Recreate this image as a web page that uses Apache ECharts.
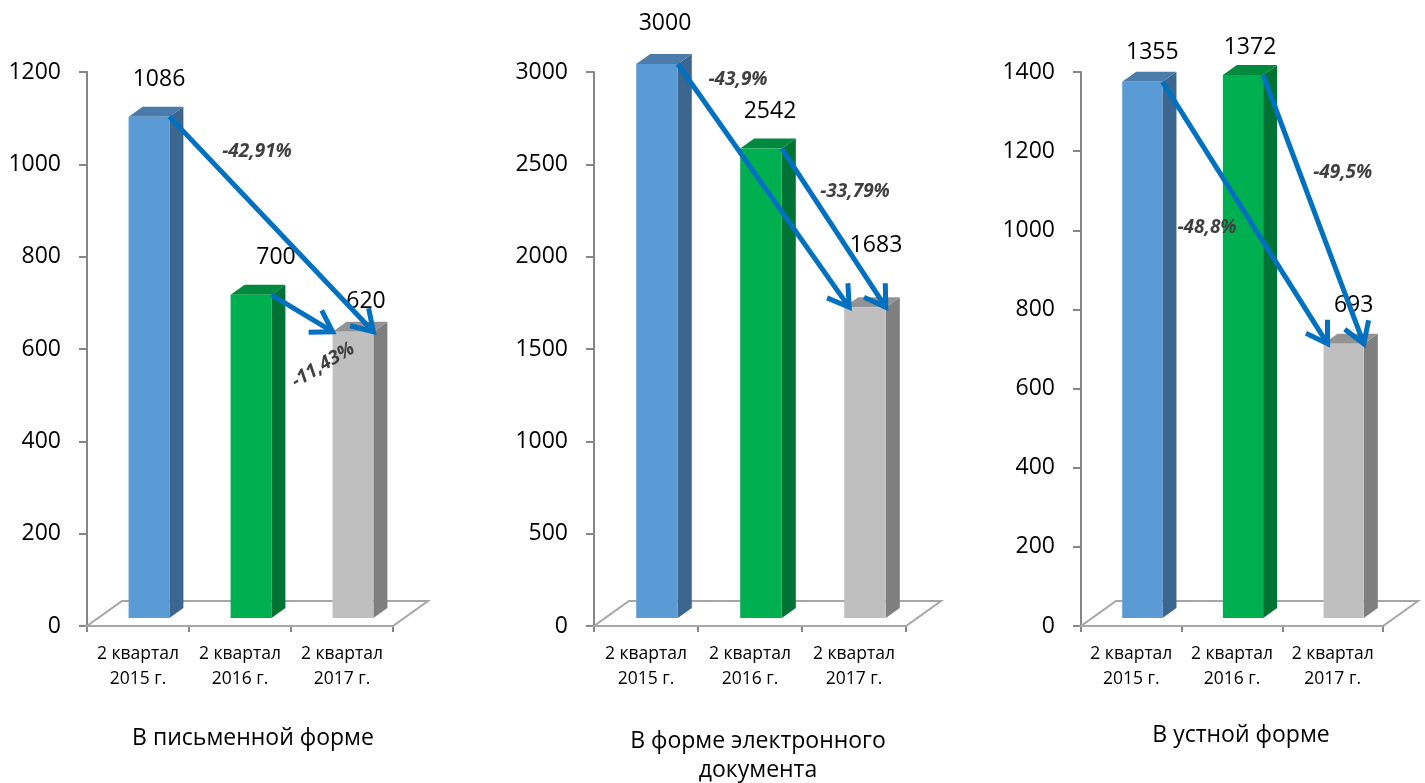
<!DOCTYPE html>
<html><head><meta charset="utf-8">
<script src="https://cdn.jsdelivr.net/npm/echarts@6/dist/echarts.min.js"></script>
<style>html,body{margin:0;padding:0;background:#fff}#c{width:1425px;height:783px}</style>
</head><body><div id="c"></div>
<script>
// ---------- DATA ----------
const categories = ['2 квартал\n2015 г.', '2 квартал\n2016 г.', '2 квартал\n2017 г.'];
const chartTitles = ['В письменной форме', 'В форме электронного\nдокумента', 'В устной форме'];

const writtenValues = [1086, 700, 620];
const electronicValues = [3000, 2542, 1683];
const oralValues = [1355, 1372, 693];

const writtenAxisMax = 1200, writtenAxisStep = 200;
const electronicAxisMax = 3000, electronicAxisStep = 500;
const oralAxisMax = 1400, oralAxisStep = 200;

const writtenChangeFrom = [0, 1], writtenChangeTo = [2, 2];
const writtenChangeLabels = ['-42,91%', '-11,43%'];
const electronicChangeFrom = [0, 1], electronicChangeTo = [2, 2];
const electronicChangeLabels = ['-43,9%', '-33,79%'];
const oralChangeFrom = [0, 1], oralChangeTo = [2, 2];
const oralChangeLabels = ['-48,8%', '-49,5%'];

// ---------- LAYOUT / STYLE ----------
const FONT = '"Open Sans", "Noto Sans", sans-serif';
const AXIS_GRAY = '#868686';
const barColors = [
  {front: '#5b9bd5', side: '#3b6690', top: '#4a7bab'},
  {front: '#00b050', side: '#007233', top: '#008a3e'},
  {front: '#bfbfbf', side: '#7f7f7f', top: '#939393'}
];
const BAR_RATIO = 0.4, BAR_DX = 11, BAR_LIFT = 8, DEPTH_X = 14, DEPTH_Y = 10;
const FLOOR_X = 35, FLOOR_Y = 25;
const LABEL_GAP = 35, LABEL_DX = 10;

const charts = [
  {values: writtenValues, max: writtenAxisMax, step: writtenAxisStep,
   from: writtenChangeFrom, to: writtenChangeTo, pct: writtenChangeLabels,
   grid: {left: 87, top: 72, width: 306, height: 554},
   tipFrac: [1, 0],
   pctPos: [[1.167, 1027, 0], [1.814, 565, -31]],
   labelShift: [[0, -2], [15, -2], [3, 5]],
   title: {x: 253, y: 738}},
  {values: electronicValues, max: electronicAxisMax, step: electronicAxisStep,
   from: electronicChangeFrom, to: electronicChangeTo, pct: electronicChangeLabels,
   grid: {left: 594, top: 72, width: 312, height: 554},
   tipFrac: [0.12, 1],
   pctPos: [[0.885, 2957, 0], [2.01, 2350, 0]],
   labelShift: [[-2, -6], [-1, -2], [1, -27]],
   title: {x: 758, y: 756}},
  {values: oralValues, max: oralAxisMax, step: oralAxisStep,
   from: oralChangeFrom, to: oralChangeTo, pct: oralChangeLabels,
   grid: {left: 1081, top: 72, width: 302, height: 554},
   tipFrac: [0.1, 1],
   pctPos: [[0.752, 1008, 0], [2.10, 1147, 0]],
   labelShift: [[0, 6], [-3, 7], [0, -3]],
   title: {x: 1241, y: 735}}
];

function barGeom(api, i, v) {
  const top = api.coord([i, v]);
  const base = api.coord([i, 0]);
  const cw = api.size([1, 0])[0];
  const w = cw * BAR_RATIO;
  const cx = top[0] + BAR_DX;
  return {x0: cx - w / 2, x1: cx + w / 2, yt: top[1] - BAR_LIFT, yb: base[1] - BAR_LIFT, cx: cx, w: w, cw: cw};
}

function makeBarRender(ch) {
  return function (params, api) {
    const i = api.value(0), v = api.value(1);
    const g = barGeom(api, i, v);
    const c = barColors[i];
    const sh = ch.labelShift[i];
    return {type: 'group', children: [
      {type: 'polygon', shape: {points: [[g.x1, g.yb], [g.x1 + DEPTH_X, g.yb - DEPTH_Y], [g.x1 + DEPTH_X, g.yt - DEPTH_Y], [g.x1, g.yt]]}, style: {fill: c.side}},
      {type: 'polygon', shape: {points: [[g.x0, g.yt], [g.x1, g.yt], [g.x1 + DEPTH_X, g.yt - DEPTH_Y], [g.x0 + DEPTH_X, g.yt - DEPTH_Y]]}, style: {fill: c.top}},
      {type: 'rect', shape: {x: g.x0, y: g.yt, width: g.w, height: g.yb - g.yt}, style: {fill: c.front}},
      {type: 'text', x: g.cx + LABEL_DX + sh[0], y: g.yt - LABEL_GAP + sh[1],
       style: {text: String(v), align: 'center', verticalAlign: 'middle', fill: '#000', font: '23px ' + FONT}}
    ]};
  };
}

function makeFloorRender(ch) {
  return function (params, api) {
    const n = ch.values.length;
    const cw = api.size([1, 0])[0];
    const a = api.coord([0, 0]), b = api.coord([n - 1, 0]);
    const l = a[0] - cw / 2, r = b[0] + cw / 2, y = a[1];
    return {type: 'polygon', shape: {points: [[l, y], [r, y], [r + FLOOR_X, y - FLOOR_Y], [l + FLOOR_X, y - FLOOR_Y]]},
      style: {fill: '#ffffff', stroke: '#a6a6a6', lineWidth: 2}};
  };
}

function makeArrowRender(ch) {
  return function (params, api) {
    const k = params.dataIndex;
    const f = ch.from[k], t = ch.to[k];
    const gs = barGeom(api, f, ch.values[f]);
    const gt = barGeom(api, t, ch.values[t]);
    const sx = gs.x1, sy = gs.yt;
    const ex = gt.x0 + (gt.x1 - gt.x0) * ch.tipFrac[k], ey = gt.yt;
    const ang = Math.atan2(ey - sy, ex - sx);
    const L = 24, th = 32 * Math.PI / 180;
    const w1 = [ex - L * Math.cos(ang - th), ey - L * Math.sin(ang - th)];
    const w2 = [ex - L * Math.cos(ang + th), ey - L * Math.sin(ang + th)];
    const col = '#0070c0';
    const p = ch.pctPos[k];
    const origin = api.coord([0, p[1]]);
    const px = origin[0] + p[0] * gs.cw;
    return {type: 'group', children: [
      {type: 'line', shape: {x1: sx, y1: sy, x2: ex - 2 * Math.cos(ang), y2: ey - 2 * Math.sin(ang)}, style: {stroke: col, lineWidth: 5}},
      {type: 'polyline', shape: {points: [w1, [ex, ey], w2]}, style: {stroke: col, lineWidth: 5, fill: null, lineJoin: 'miter'}},
      {type: 'text', x: px, y: origin[1], rotation: -p[2] * Math.PI / 180,
       style: {text: ch.pct[k], align: 'center', verticalAlign: 'middle', fill: '#404040', font: 'italic bold 19px ' + FONT}}
    ]};
  };
}

const option = {
  animation: false,
  backgroundColor: '#fff',
  grid: charts.map(ch => Object.assign({}, ch.grid)),
  xAxis: charts.map((ch, k) => ({
    type: 'category', gridIndex: k, data: categories,
    axisLine: {show: true, lineStyle: {color: AXIS_GRAY, width: 2}},
    axisTick: {show: true, length: 6, lineStyle: {color: AXIS_GRAY, width: 2}},
    axisLabel: {color: '#000', fontSize: 17.5, lineHeight: 25, margin: 16, fontFamily: FONT, interval: 0, hideOverlap: false},
    splitLine: {show: false}
  })),
  yAxis: charts.map((ch, k) => ({
    type: 'value', gridIndex: k, min: 0, max: ch.max, interval: ch.step,
    axisLine: {show: true, lineStyle: {color: AXIS_GRAY, width: 2}},
    axisTick: {show: true, length: 8, lineStyle: {color: AXIS_GRAY, width: 2}},
    axisLabel: {color: '#000', fontSize: 23, margin: 26, fontFamily: FONT, formatter: v => String(v)},
    splitLine: {show: false}
  })),
  graphic: charts.map((ch, k) => ({
    type: 'text', x: ch.title.x, y: ch.title.y,
    style: {text: chartTitles[k], align: 'center', verticalAlign: 'middle', fill: '#000', font: '23px ' + FONT, lineHeight: 29}
  })),
  series: []
};

charts.forEach((ch, k) => {
  option.series.push({type: 'custom', xAxisIndex: k, yAxisIndex: k, z: 1,
    renderItem: makeFloorRender(ch), data: [[0, 0]], encode: {x: 0, y: 1}, silent: true});
  option.series.push({type: 'custom', xAxisIndex: k, yAxisIndex: k, z: 2,
    renderItem: makeBarRender(ch), data: ch.values.map((v, i) => [i, v]), encode: {x: 0, y: 1}});
  option.series.push({type: 'custom', xAxisIndex: k, yAxisIndex: k, z: 3,
    renderItem: makeArrowRender(ch), data: ch.from.map((f, j) => [f, ch.values[f]]), encode: {x: 0, y: 1}});
});

const chart = echarts.init(document.getElementById('c'), null, {renderer: 'canvas'});
chart.setOption(option);
</script>
</body></html>
